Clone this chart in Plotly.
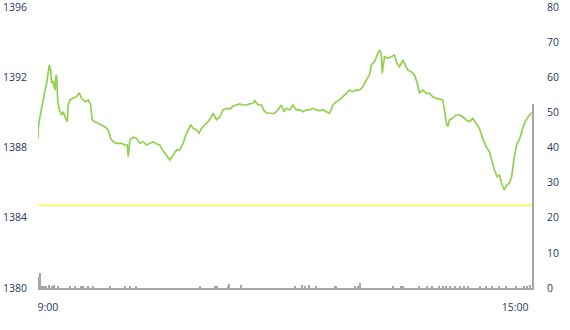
import plotly.graph_objects as go

# Price series (minutes since session open, price)
price_minutes = [0, 0.14, 0.91, 2.13, 3.18, 3.95, 4.67, 5.13, 5.76, 6.21, 6.94, 7.71, 8.17, 8.48, 8.94,
    9.66, 10.75, 11.48, 12.25, 13.29, 13.74, 14.52, 16.01, 17.56, 18.73, 19.82, 21.32, 22.82, 23.91,
    24.63, 25.86, 27.35, 28.90, 30.39, 31.89, 32.98, 34.16, 35.70, 37.97, 39.47, 40.51, 40.96, 41.73,
    43.23, 44.77, 46.27, 47.77, 49.31, 50.81, 52.30, 53.85, 55.34, 56.11, 57.61, 59.11, 59.88, 61.38,
    62.92, 64.42, 65.91, 67.45, 68.18, 69.41, 70.45, 71.99, 73.17, 74.26, 75.76, 77.25, 78.80, 79.52,
    81.06, 82.56, 84.06, 85.60, 87.10, 88.59, 90.14, 91.63, 93.13, 94.67, 96.17, 97.67, 98.44, 99.94,
    101.48, 102.97, 104.47, 106.01, 107.51, 109.01, 110.55, 111.73, 112.82, 114.31, 115.81, 117.35,
    118.85, 120.35, 121.89, 123.39, 124.88, 126.43, 127.92, 129.42, 130.96, 132.46, 133.96, 135.50,
    137.00, 138.49, 140.03, 141.53, 143.03, 144.57, 146.07, 147.57, 149.11, 150.61, 151.38, 152.87,
    154.37, 155.14, 155.91, 156.37, 157.41, 158.91, 160.45, 161.95, 162.99, 164.21, 165.71, 166.94,
    167.98, 169.52, 171.02, 172.51, 173.29, 174.78, 176.32, 177.82, 179.32, 180.86, 182.36, 183.85,
    184.62, 185.39, 186.12, 186.89, 188.39, 189.93, 191.43, 192.93, 194.47, 195.97, 197.46, 199.01,
    200.50, 202.00, 203.54, 205.04, 206.08, 207.31, 208.53, 209.58, 210.80, 211.84, 212.89, 214.11,
    215.16, 216.38, 217.60, 218.65, 220.15, 221.23, 222.73, 223.96, 224.86, 225.0]
price_values = [1388.54, 1389.18, 1389.75, 1390.71, 1391.27, 1391.67, 1392.41, 1392.70, 1392.41,
    1391.67, 1391.75, 1391.27, 1392.13, 1392.03, 1390.71, 1390.14, 1389.85, 1390.04, 1389.75, 1389.47,
    1390.42, 1390.71, 1390.82, 1390.89, 1391.12, 1390.80, 1390.61, 1390.71, 1390.42, 1389.57, 1389.47,
    1389.38, 1389.28, 1389.18, 1389.00, 1388.52, 1388.33, 1388.24, 1388.24, 1388.14, 1388.14, 1387.48,
    1388.43, 1388.58, 1388.52, 1388.24, 1388.33, 1388.14, 1388.24, 1388.33, 1388.20, 1388.14, 1387.95,
    1387.67, 1387.39, 1387.29, 1387.57, 1387.86, 1387.86, 1388.24, 1388.81, 1389.00, 1389.28, 1389.09,
    1389.00, 1388.81, 1389.09, 1389.28, 1389.47, 1389.75, 1389.95, 1389.57, 1389.75, 1390.14, 1390.23,
    1390.18, 1390.36, 1390.42, 1390.48, 1390.42, 1390.42, 1390.48, 1390.52, 1390.66, 1390.42, 1390.42,
    1390.04, 1389.95, 1389.95, 1389.95, 1390.14, 1390.42, 1390.04, 1390.23, 1390.14, 1390.42, 1390.14,
    1390.14, 1390.04, 1390.14, 1390.14, 1390.23, 1390.14, 1390.10, 1390.14, 1390.04, 1389.95, 1390.42,
    1390.61, 1390.71, 1390.89, 1391.09, 1391.27, 1391.18, 1391.27, 1391.27, 1391.46, 1391.84, 1392.13,
    1392.70, 1392.89, 1393.36, 1393.55, 1393.36, 1392.23, 1393.17, 1393.08, 1393.17, 1393.27, 1392.79,
    1392.60, 1392.98, 1392.70, 1392.41, 1392.32, 1392.13, 1391.56, 1391.09, 1391.27, 1391.09, 1391.09,
    1390.89, 1390.80, 1390.74, 1390.71, 1390.14, 1389.47, 1389.18, 1389.57, 1389.66, 1389.85, 1389.85,
    1389.75, 1389.57, 1389.47, 1389.66, 1389.38, 1389.09, 1388.52, 1388.05, 1387.76, 1387.29, 1386.72,
    1386.34, 1386.43, 1385.86, 1385.58, 1385.86, 1385.96, 1386.34, 1387.48, 1388.24, 1388.43, 1389.09,
    1389.47, 1389.75, 1389.95, 1389.95, 1389.28]

# Volume bars (minute, volume)
volume_minutes = [0.1, 1.1, 1.8, 2.7, 3.6, 5.1, 6.4, 7.0, 7.3, 9.2, 14.5, 16.8, 19.8, 20.5, 22.8, 25.1,
    32.7, 39.5, 41.7, 44.8, 73.5, 80.3, 81.4, 86.3, 86.8, 92.2, 116.7, 119.9, 121.3, 123.1, 126.2,
    135.2, 135.6, 144.2, 145.6, 146.2, 161.2, 165.0, 166.0, 173.3, 176.7, 179.0, 182.4, 183.9, 185.4,
    187.3, 189.6, 191.9, 193.7, 195.2, 201.0, 203.5, 206.4, 209.6, 212.6, 217.3, 220.9, 222.0, 223.6,
    225.0]
volume_values = [3.2, 4.4, 0.5, 0.5, 0.5, 0.9, 0.5, 0.5, 0.9, 0.5, 0.4, 0.4, 0.5, 0.5, 0.5, 0.4,
    0.4, 0.4, 0.4, 0.4, 0.5, 0.5, 0.6, 0.5, 1.2, 0.8, 0.5, 0.8, 0.5, 0.9, 0.4,
    0.5, 0.5, 0.6, 0.5, 1.4, 0.5, 0.4, 0.4, 0.4, 0.4, 0.4, 0.4, 0.4, 0.4,
    0.4, 0.4, 0.5, 0.4, 0.4, 0.4, 0.4, 0.5, 0.5, 0.4, 0.4, 0.4, 0.4, 0.8,
    52.4]

prev_close = 1384.7
x_tick_vals = [4.5, 216.7]
x_tick_text = ["9:00", "15:00"]

label_font = dict(family="Open Sans", size=10.5, color="#1f3864")

fig = go.Figure()
fig.add_trace(go.Bar(x=volume_minutes, y=volume_values, yaxis="y2", width=0.6,
                     marker=dict(color="#a6a6a6", line=dict(width=0)), hoverinfo="skip"))
fig.add_trace(go.Scatter(x=price_minutes, y=price_values, mode="lines",
                         line=dict(color="#92d050", width=1.7), yaxis="y"))

fig.add_shape(type="line", xref="paper", yref="y", x0=0, x1=1, y0=prev_close, y1=prev_close,
              line=dict(color="#ffff00", width=1), layer="below")

fig.update_layout(
    width=570, height=330,
    margin=dict(l=38, r=36, t=7, b=42, autoexpand=False),
    paper_bgcolor="white", plot_bgcolor="white",
    showlegend=False,
    bargap=0,
    xaxis=dict(range=[0, 225.3], tickvals=x_tick_vals, ticktext=x_tick_text, showgrid=False,
               zeroline=False, showline=True, linecolor="#a6a6a6", linewidth=2,
               tickfont=label_font, ticks="", ticklabelstandoff=8, automargin=False),
    yaxis=dict(range=[1380, 1396], dtick=4, tick0=1380, showgrid=False, zeroline=False,
               tickfont=label_font, ticks="", ticklabelstandoff=10, ticklabeloverflow="allow",
               automargin=False),
    yaxis2=dict(range=[0, 80], dtick=10, overlaying="y", side="right", showgrid=False,
                zeroline=False, tickfont=label_font, ticks="", ticklabelstandoff=12,
                ticklabeloverflow="allow", automargin=False),
)

fig.write_html("out.html")
